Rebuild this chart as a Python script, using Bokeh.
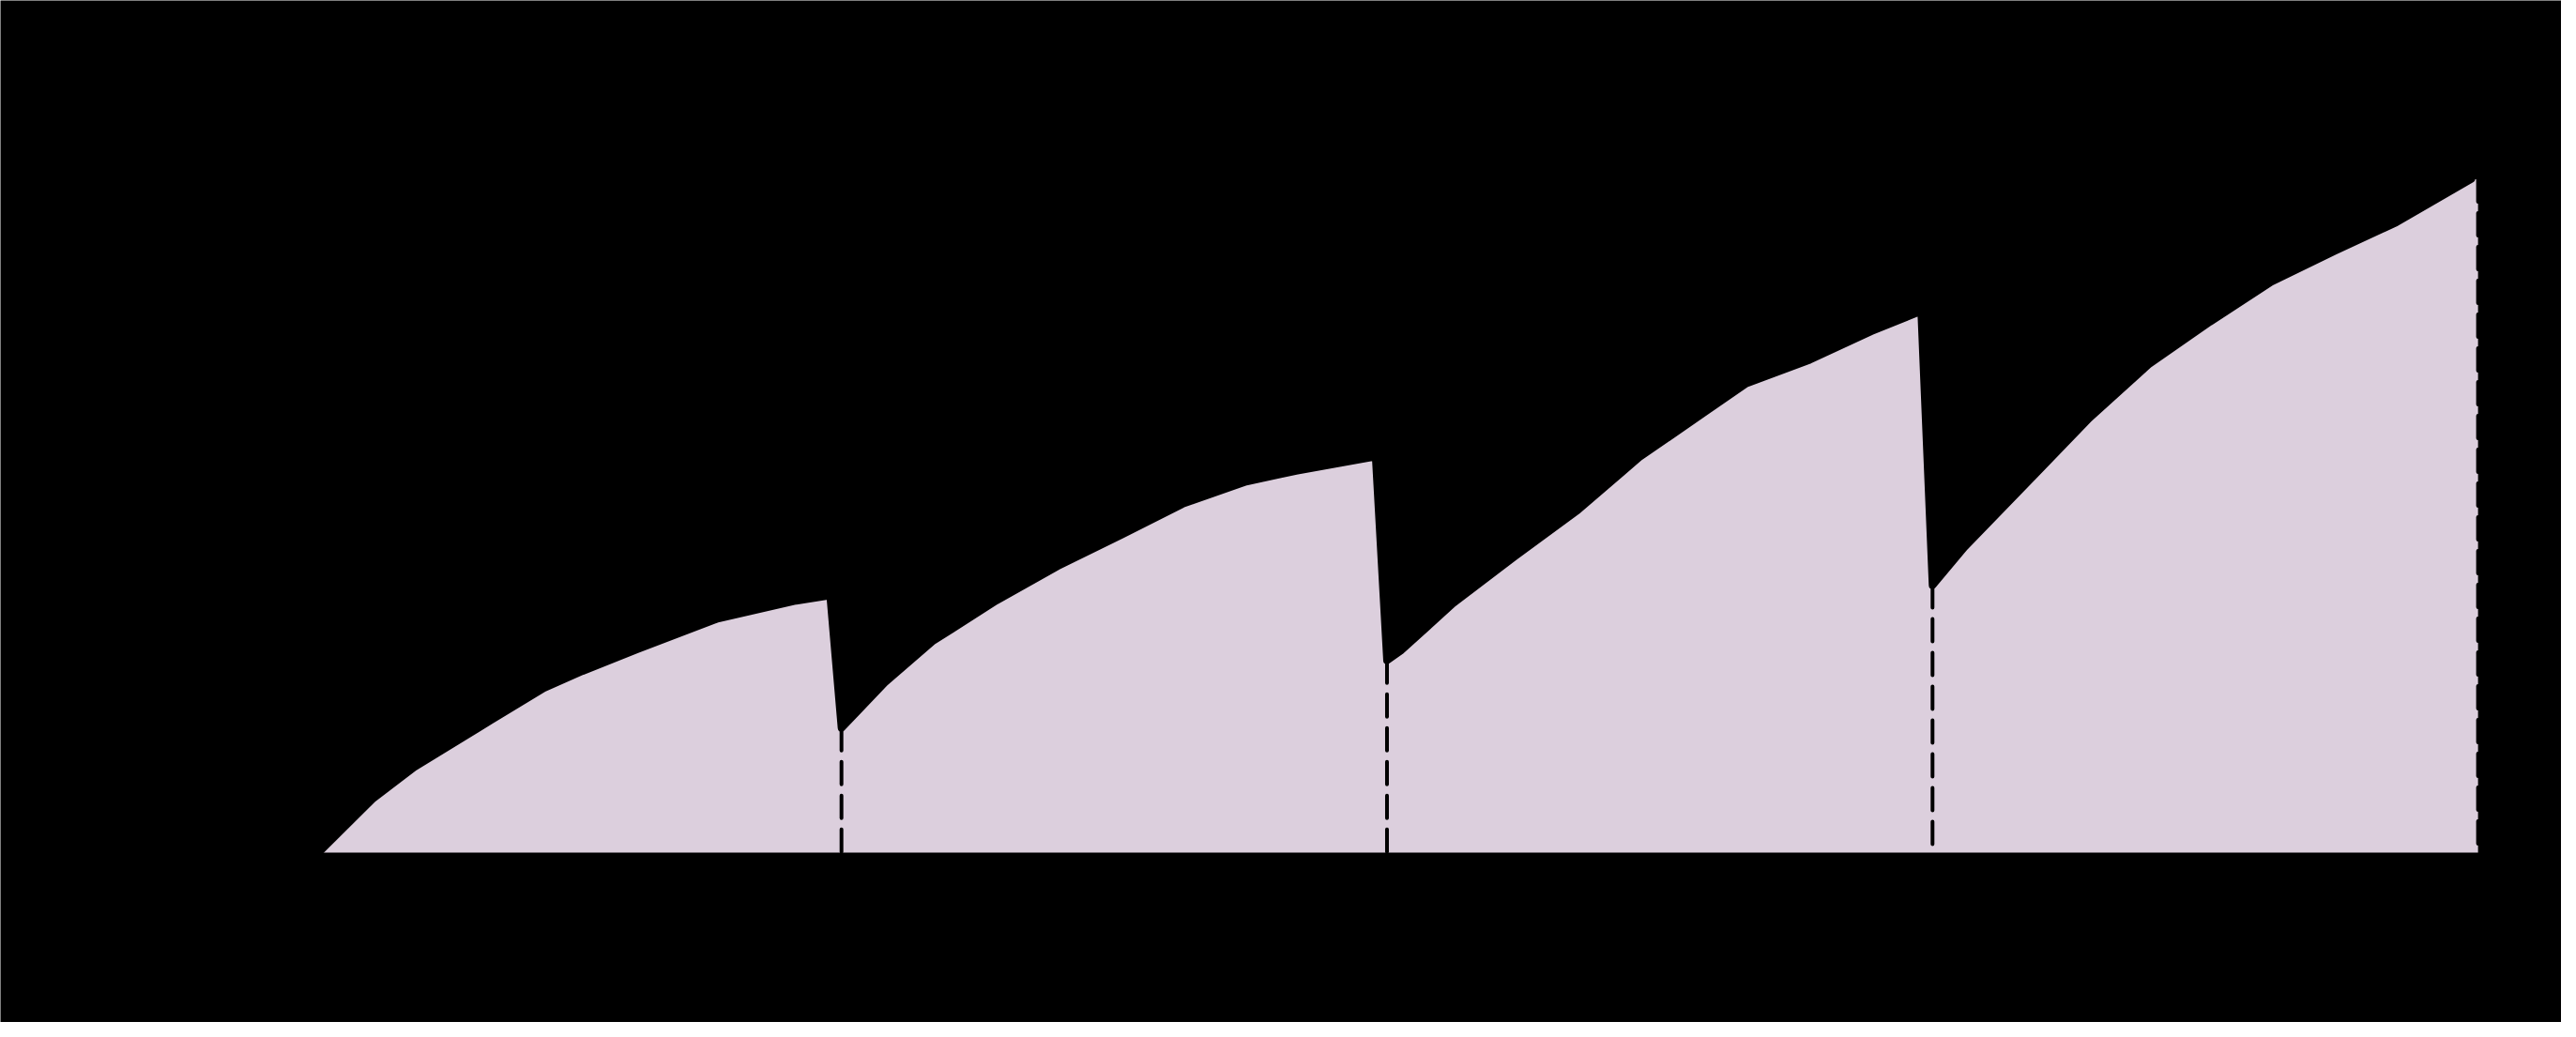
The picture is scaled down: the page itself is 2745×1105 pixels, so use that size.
from bokeh.plotting import figure
from bokeh.models import Range1d
from bokeh.embed import file_html
from bokeh.resources import INLINE

# Sawtooth level series (time in hours, level in arbitrary units)
hours = [1.0, 3.4, 5.2, 8.6, 10.9, 12.6, 15.0, 18.5, 22.0, 23.5,
         24.0, 25.9, 28.0, 30.8, 33.5, 36.3, 39.0, 41.8, 44.0, 47.5,
         48.0, 48.6, 50.9, 53.6, 56.4, 59.1, 61.9, 63.8, 66.6, 69.3, 71.5,
         72.0, 73.4, 76.2, 78.9, 81.5, 84.2, 86.9, 89.7, 92.4, 95.7]
level = [0.0, 0.80, 1.26, 1.96, 2.43, 2.68, 3.00, 3.45, 3.72, 3.80,
         1.84, 2.51, 3.12, 3.72, 4.23, 4.69, 5.15, 5.48, 5.64, 5.85,
         2.84, 2.98, 3.68, 4.37, 5.06, 5.84, 6.49, 6.93, 7.28, 7.70, 8.00,
         3.95, 4.51, 5.48, 6.42, 7.21, 7.84, 8.43, 8.89, 9.31, 9.95]

# Dashed markers: time of each drop and the level where the dashed line starts
marker_hours = [24.0, 48.0, 72.0, 96.0]
marker_level = [1.84, 2.84, 3.95, 9.95]
end_hour = 96.0

FILL = "#dccfdd"

p = figure(width=2729, height=1089, output_backend="svg", toolbar_location=None,
           x_range=Range1d(-13.0, 99.67), y_range=Range1d(-2.51, 12.59),
           min_border=0, min_border_left=0, min_border_right=0,
           min_border_top=0, min_border_bottom=0)
p.background_fill_color = "black"
p.border_fill_color = "black"
p.outline_line_color = None
p.xgrid.visible = False
p.ygrid.visible = False
p.xaxis.visible = False
p.yaxis.visible = False

# filled area
px = hours + [end_hour, end_hour, hours[0]]
py = level + [level[-1], 0.0, 0.0]
p.patch(px, py, fill_color=FILL, line_color=None)

# outline
p.line(hours, level, line_color="black", line_width=8, line_join="round", line_cap="round")

# dashed verticals
p.segment(x0=marker_hours, y0=marker_level, x1=marker_hours, y1=[0.0] * len(marker_hours),
          line_color="black", line_width=4, line_dash="24 12", line_cap="round")

open("out.html", "w").write(file_html(p, INLINE))
